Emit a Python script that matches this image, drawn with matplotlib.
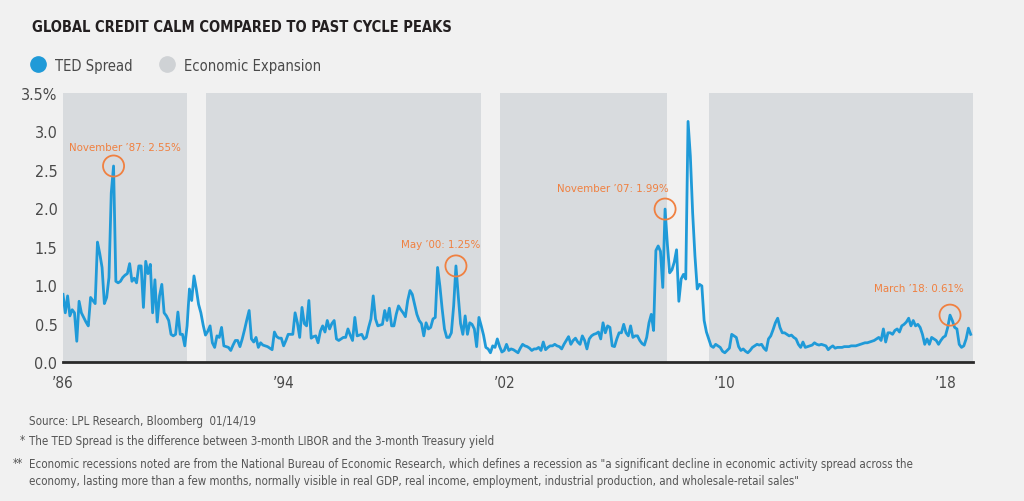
import numpy as np
import matplotlib
matplotlib.use("Agg")
import matplotlib.pyplot as plt
from matplotlib.lines import Line2D
from matplotlib import font_manager

# monthly TED spread (%), Jan 1986 .. Dec 2018
ted_by_year = {
    1986: [0.88, 0.64, 0.86, 0.60, 0.68, 0.64, 0.27, 0.79, 0.64, 0.58, 0.52, 0.47],
    1987: [0.84, 0.80, 0.76, 1.56, 1.41, 1.23, 0.76, 0.84, 1.10, 2.20, 2.55, 1.05],
    1988: [1.03, 1.05, 1.10, 1.13, 1.15, 1.28, 1.05, 1.09, 1.03, 1.25, 1.25, 0.71],
    1989: [1.31, 1.15, 1.27, 0.64, 1.07, 0.52, 0.86, 1.01, 0.64, 0.60, 0.54, 0.36],
    1990: [0.34, 0.36, 0.65, 0.36, 0.36, 0.21, 0.47, 0.95, 0.80, 1.12, 0.95, 0.75],
    1991: [0.64, 0.48, 0.35, 0.40, 0.47, 0.25, 0.19, 0.34, 0.32, 0.45, 0.21, 0.20],
    1992: [0.19, 0.15, 0.22, 0.28, 0.28, 0.20, 0.30, 0.42, 0.55, 0.67, 0.30, 0.26],
    1993: [0.32, 0.19, 0.25, 0.22, 0.21, 0.20, 0.18, 0.16, 0.39, 0.33, 0.31, 0.31],
    1994: [0.21, 0.28, 0.36, 0.36, 0.36, 0.64, 0.51, 0.32, 0.71, 0.50, 0.47, 0.80],
    1995: [0.31, 0.33, 0.34, 0.25, 0.40, 0.47, 0.39, 0.54, 0.43, 0.50, 0.54, 0.30],
    1996: [0.28, 0.30, 0.32, 0.32, 0.43, 0.35, 0.28, 0.58, 0.34, 0.35, 0.36, 0.30],
    1997: [0.32, 0.45, 0.56, 0.86, 0.56, 0.47, 0.48, 0.49, 0.67, 0.54, 0.70, 0.47],
    1998: [0.47, 0.62, 0.73, 0.68, 0.64, 0.59, 0.80, 0.93, 0.88, 0.75, 0.62, 0.54],
    1999: [0.50, 0.34, 0.51, 0.43, 0.45, 0.56, 0.58, 1.23, 0.99, 0.69, 0.43, 0.32],
    2000: [0.32, 0.38, 0.73, 1.25, 0.86, 0.50, 0.36, 0.60, 0.36, 0.51, 0.49, 0.43],
    2001: [0.20, 0.58, 0.47, 0.35, 0.19, 0.17, 0.12, 0.21, 0.19, 0.30, 0.20, 0.13],
    2002: [0.15, 0.23, 0.15, 0.17, 0.16, 0.14, 0.12, 0.18, 0.23, 0.21, 0.20, 0.18],
    2003: [0.15, 0.17, 0.17, 0.19, 0.15, 0.26, 0.16, 0.19, 0.21, 0.21, 0.23, 0.21],
    2004: [0.20, 0.17, 0.23, 0.28, 0.33, 0.23, 0.28, 0.31, 0.26, 0.23, 0.34, 0.28],
    2005: [0.17, 0.30, 0.34, 0.36, 0.37, 0.39, 0.30, 0.51, 0.38, 0.47, 0.45, 0.21],
    2006: [0.20, 0.30, 0.38, 0.38, 0.49, 0.38, 0.34, 0.47, 0.32, 0.34, 0.34, 0.28],
    2007: [0.24, 0.22, 0.32, 0.51, 0.62, 0.41, 1.45, 1.51, 1.44, 0.97, 1.99, 1.53],
    2008: [1.16, 1.20, 1.30, 1.46, 0.79, 1.08, 1.14, 1.08, 3.13, 2.68, 1.94, 1.38],
    2009: [0.95, 1.01, 0.99, 0.54, 0.39, 0.30, 0.21, 0.19, 0.23, 0.21, 0.19, 0.14],
    2010: [0.12, 0.15, 0.18, 0.36, 0.34, 0.32, 0.20, 0.15, 0.17, 0.14, 0.12, 0.15],
    2011: [0.19, 0.21, 0.23, 0.22, 0.23, 0.18, 0.15, 0.30, 0.34, 0.42, 0.51, 0.57],
    2012: [0.45, 0.38, 0.38, 0.36, 0.34, 0.35, 0.32, 0.30, 0.23, 0.19, 0.26, 0.19],
    2013: [0.20, 0.21, 0.22, 0.25, 0.23, 0.22, 0.23, 0.22, 0.21, 0.16, 0.19, 0.21],
    2014: [0.18, 0.19, 0.19, 0.19, 0.20, 0.20, 0.20, 0.21, 0.21, 0.21, 0.22, 0.23],
    2015: [0.24, 0.25, 0.25, 0.26, 0.27, 0.28, 0.30, 0.32, 0.28, 0.43, 0.26, 0.38],
    2016: [0.38, 0.36, 0.41, 0.43, 0.39, 0.47, 0.49, 0.52, 0.57, 0.47, 0.54, 0.47],
    2017: [0.49, 0.45, 0.36, 0.23, 0.30, 0.23, 0.32, 0.30, 0.28, 0.23, 0.28, 0.32],
    2018: [0.34, 0.45, 0.61, 0.54, 0.45, 0.43, 0.23, 0.19, 0.21, 0.30, 0.44, 0.36],
}

# economic expansions (start, end) in decimal years
expansions = [(1986.0, 1990.5), (1991.17, 2001.17), (2001.83, 2007.92), (2009.42, 2019.0)]

tick_years = [1986, 1994, 2002, 2010, 2018]
tick_labels = ["\u201986", "\u201994", "\u201902", "\u201910", "\u201918"]
y_ticks = [0.0, 0.5, 1.0, 1.5, 2.0, 2.5, 3.0, 3.5]
y_labels = ["0.0", "0.5", "1.0", "1.5", "2.0", "2.5", "3.0", "3.5%"]

# annotated peaks: (label, year, month)
peaks = [("November \u201987: 2.55%", 1987, 11),
         ("May \u201900: 1.25%", 2000, 4),
         ("November \u201907: 1.99%", 2007, 11),
         ("March \u201918: 0.61%", 2018, 3)]

ted = np.concatenate([ted_by_year[y] for y in sorted(ted_by_year)])
dates = 1986 + np.arange(len(ted)) / 12.0

BG = "#f1f1f1"
SHADE = "#d8dbde"
BLUE = "#1f9ad8"
ORANGE = "#f08040"
TXT = "#4a4a4a"


def fp(size, weight="normal"):
    return font_manager.FontProperties(family="DejaVu Sans", stretch="condensed",
                                       size=size, weight=weight)


fig = plt.figure(figsize=(10.24, 5.02), dpi=100, facecolor=BG)
ax = fig.add_axes([63 / 1024, 1 - 363 / 502, 910 / 1024, 269 / 502])
ax.set_facecolor(BG)

for s, e in expansions:
    ax.axvspan(s, e, color=SHADE, lw=0, zorder=0)

ax.plot(dates, ted, color=BLUE, lw=2.0, zorder=3)

# peak callouts, offsets in pixels
text_dx = [11, -15, -52, -31]
text_dy = [16, 19, 18, 24]
for (lab, yr, mo), dx, dy in zip(peaks, text_dx, text_dy):
    i = (yr - 1986) * 12 + mo - 1
    ax.scatter([dates[i]], [ted[i]], s=230, facecolors="none",
               edgecolors=ORANGE, linewidths=1.3, zorder=4)
    ax.annotate(lab, (dates[i], ted[i]), xytext=(dx * 0.72, dy * 0.72),
                textcoords="offset points", ha="center", va="baseline",
                color=ORANGE, fontproperties=fp(8.2))

ax.set_xlim(1986.0, 2019.0)
ax.set_ylim(0, 3.5)
ax.set_xticks(tick_years)
ax.set_xticklabels(tick_labels, fontproperties=fp(11), color=TXT)
ax.set_yticks(y_ticks)
ax.set_yticklabels(y_labels, fontproperties=fp(11.5), color=TXT)
ax.tick_params(axis="y", length=0, pad=4)
ax.tick_params(axis="x", length=0, pad=9)
for sp in ["top", "right", "left"]:
    ax.spines[sp].set_visible(False)
ax.spines["bottom"].set_color("#2a2a2a")
ax.spines["bottom"].set_linewidth(2.0)
ax.spines["bottom"].set_zorder(5)

fig.text(32 / 1024, 1 - 28 / 502, "GLOBAL CREDIT CALM COMPARED TO PAST CYCLE PEAKS",
         fontproperties=fp(10.5, "bold"), color="#231f20", va="center")

handles = [Line2D([], [], ls="none", marker="o", ms=11, color=BLUE),
           Line2D([], [], ls="none", marker="o", ms=11, color="#cfd2d5")]
fig.legend(handles, ["TED Spread", "Economic Expansion"], loc="center left",
           bbox_to_anchor=(31 / 1024, 1 - 66 / 502), ncol=2, frameon=False,
           borderpad=0, borderaxespad=0, handlelength=1.0,
           handletextpad=0.65, columnspacing=1.8, prop=fp(10.6), labelcolor=TXT)

fn = dict(fontproperties=fp(8.3), color="#555555", va="center")
fig.text(29 / 1024, 1 - 422 / 502, "Source: LPL Research, Bloomberg  01/14/19", **fn)
fig.text(20 / 1024, 1 - 441 / 502, "*", **fn)
fig.text(29 / 1024, 1 - 442 / 502,
         "The TED Spread is the difference between 3-month LIBOR and the 3-month Treasury yield", **fn)
fig.text(13 / 1024, 1 - 464 / 502, "**", **fn)
fig.text(29 / 1024, 1 - 465 / 502,
         "Economic recessions noted are from the National Bureau of Economic Research, which defines a "
         "recession as \"a significant decline in economic activity spread across the", **fn)
fig.text(29 / 1024, 1 - 482 / 502,
         "economy, lasting more than a few months, normally visible in real GDP, real income, employment, "
         "industrial production, and wholesale-retail sales\"", **fn)

fig.savefig("out.png", dpi=100, facecolor=BG)
